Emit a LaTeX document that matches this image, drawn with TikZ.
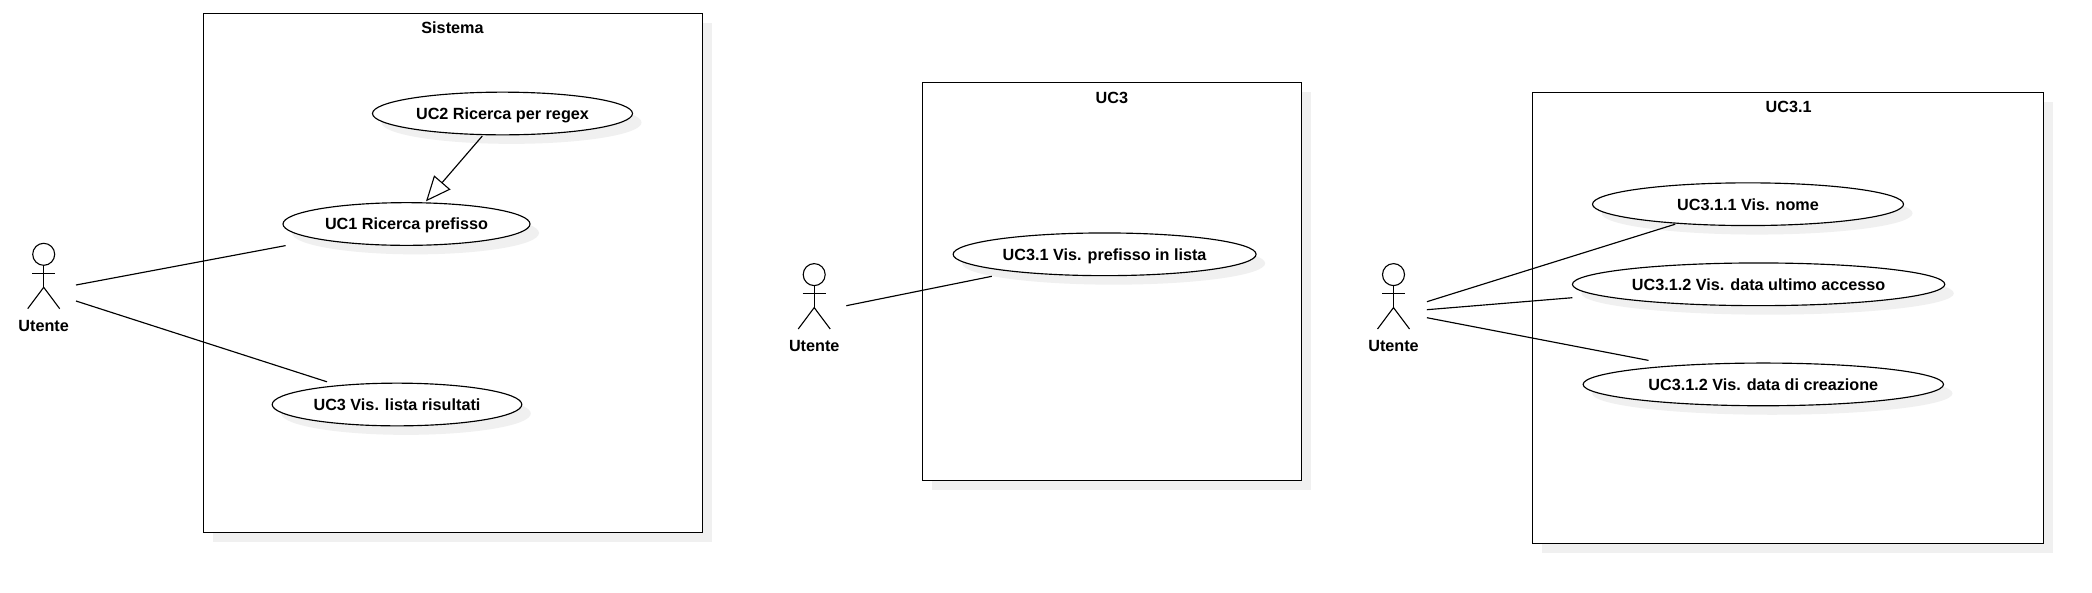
\documentclass[tikz,border=0pt]{standalone}
\usepackage{fontspec}
\setmainfont{Liberation Sans}
\usetikzlibrary{arrows.meta,shapes.geometric,shadows}
\definecolor{shadowgray}{HTML}{F0F0F0}
\tikzset{
  boxshadow/.style={general shadow={fill=shadowgray,shadow xshift=9pt,shadow yshift=-9pt}},
  sysbox/.style={draw=black,fill=white,line width=1.15pt,rectangle,inner sep=0pt,boxshadow},
  usecase/.style={draw=black,fill=white,line width=1.15pt,ellipse,inner sep=0pt,boxshadow},
  lbl/.style={font=\fontsize{16.2}{18}\selectfont\bfseries,inner sep=0pt,anchor=center,text height=11.6pt,text depth=0pt},
  link/.style={draw=black,line width=1.15pt},
  limb/.style={draw=black,line width=1.1pt},
  head/.style={draw=black,line width=1.1pt,circle,minimum size=22pt,inner sep=0pt},
  general/.style={link,-{Triangle[open,fill=white,length=25pt,width=21.5pt,line width=1.1pt]}},
}
\newcommand{\actor}[3]{% name, x, head-centre y
  \node[head] (#1head) at (#2,#3) {};
  \coordinate (#1crotch) at (#2,#3+33);
  \draw[limb] (#1head.south) -- (#1crotch);
  \draw[limb] ([xshift=-11.5pt,yshift=-19pt]#1head.center) -- ([xshift=11.5pt,yshift=-19pt]#1head.center);
  \draw[limb] ([xshift=-16pt,yshift=-21.4pt]#1crotch) -- (#1crotch) -- ([xshift=16pt,yshift=-21.4pt]#1crotch);
  \node[lbl] (#1label) at (#2,#3+71.4) {Utente};
}
\begin{document}
\begin{tikzpicture}[x=1pt,y=-1pt]
\useasboundingbox (0,0) rectangle (2092,592);
% Left diagram
\node[sysbox,minimum width=499pt,minimum height=519pt] (sys) at (453,273) {};
\node[lbl] (systitle) at (452.5,28) {Sistema};
\node[usecase,minimum width=260pt,minimum height=42.7pt] (uc2) at (502.5,113.5) {};
\node[lbl] at (uc2) {UC2 Ricerca per regex};
\node[usecase,minimum width=247pt,minimum height=42.7pt] (uc1) at (406.5,224) {};
\node[lbl] at (uc1) {UC1 Ricerca prefisso};
\node[usecase,minimum width=249.6pt,minimum height=42.7pt] (uc3) at (397,404.5) {};
\node[lbl] at (uc3) {UC3 Vis. lista risultati};
\actor{a}{43.7}{254.3}
\coordinate (a1) at (76,285);
\coordinate (a2) at (76,301);
\coordinate (uc1in) at (285.6,245.6);
\coordinate (uc3in) at (327,381.8);
\coordinate (uc2out) at (482.3,136);
\coordinate (uc1top) at (426,201.3);
\draw[link] (a1) -- (uc1in);
\draw[link] (a2) -- (uc3in);
\draw[general] (uc2out) -- (uc1top);
% Middle diagram
\node[sysbox,minimum width=379pt,minimum height=398pt] (sysb) at (1112,281.5) {};
\node[lbl] (sysbtitle) at (1111.9,97.4) {UC3};
\node[usecase,minimum width=303pt,minimum height=42.7pt] (uc31) at (1104.6,254.3) {};
\node[lbl] at (uc31) {UC3.1 Vis. prefisso in lista};
\actor{b}{814.2}{274.6}
\coordinate (b1) at (846.3,305.7);
\coordinate (uc31in) at (991.8,276.3);
\draw[link] (b1) -- (uc31in);
% Right diagram
\node[sysbox,minimum width=511pt,minimum height=451pt] (sysc) at (1788,318) {};
\node[lbl] (sysctitle) at (1788.6,106.8) {UC3.1};
\node[usecase,minimum width=311pt,minimum height=42.7pt] (uc311) at (1748,204.2) {};
\node[lbl] at (uc311) {UC3.1.1 Vis. nome};
\node[usecase,minimum width=372.4pt,minimum height=42.7pt] (uc312) at (1758.6,284.3) {};
\node[lbl] at (uc312) {UC3.1.2 Vis. data ultimo accesso};
\node[usecase,minimum width=360.4pt,minimum height=42.7pt] (uc313) at (1763.3,384.4) {};
\node[lbl] at (uc313) {UC3.1.2 Vis. data di creazione};
\actor{c}{1393.5}{274.6}
\coordinate (c1) at (1426.9,301.7);
\coordinate (c2) at (1426.9,309.7);
\coordinate (c3) at (1426.9,317.7);
\coordinate (uc311in) at (1675.2,224.2);
\coordinate (uc312in) at (1572.4,297.7);
\coordinate (uc313in) at (1648.5,360.4);
\draw[link] (c1) -- (uc311in);
\draw[link] (c2) -- (uc312in);
\draw[link] (c3) -- (uc313in);
\end{tikzpicture}
\end{document}
